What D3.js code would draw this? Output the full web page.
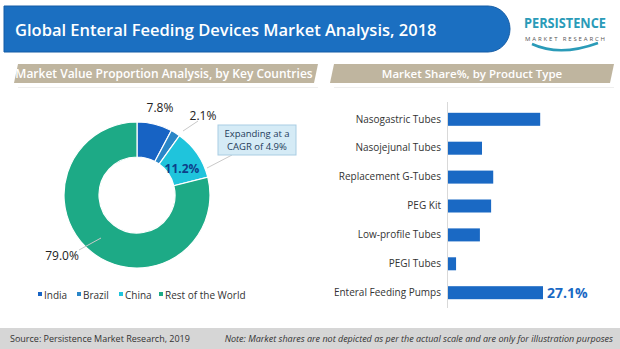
<!DOCTYPE html>
<html><head><meta charset="utf-8">
<script src="https://cdn.jsdelivr.net/npm/d3@7"></script>
<style>body{margin:0;background:#fff}svg{display:block}text{font-family:"Open Sans","Noto Sans",sans-serif}</style>
</head><body><svg id="c" width="620" height="349"></svg>
<script>
const countries = ["India","Brazil","China","Rest of the World"];
const shares = [7.8, 2.1, 11.2, 79.0];
const shareLabels = ["7.8%","2.1%","11.2%","79.0%"];
const countryColors = ["#1763c4","#2a86c8","#1fc4dc","#1daa86"];
const products = ["Nasogastric Tubes","Nasojejunal Tubes","Replacement G-Tubes","PEG Kit","Low-profile Tubes","PEGI Tubes","Enteral Feeding Pumps"];
const productShares = [26.3, 9.7, 12.9, 12.3, 9.1, 2.3, 27.1];

const svg = d3.select("#c");
// Title banner
svg.append("path").attr("d","M4,6 H488 A22,23 0 0 1 510,29 A22,23 0 0 1 488,52 H4 Z").attr("fill","#1b6fc1").attr("stroke","#155da6").attr("stroke-width",1);
svg.append("text").attr("x",15).attr("y",35.5).attr("fill","#fff").attr("font-size",16.5).attr("font-weight",600).text("Global Enteral Feeding Devices Market Analysis, 2018");
// Logo
svg.append("text").attr("x",565).attr("y",28).attr("text-anchor","middle").attr("fill","#2a9bb8").attr("font-size",15).attr("font-weight",700).attr("font-family","Liberation Sans Narrow, Liberation Sans, sans-serif").attr("textLength",82).attr("lengthAdjust","spacingAndGlyphs").text("PERSISTENCE");
svg.append("text").attr("x",565).attr("y",41).attr("text-anchor","middle").attr("fill","#555").attr("font-size",6).attr("textLength",80).attr("lengthAdjust","spacing").text("MARKET RESEARCH");
svg.append("path").attr("d","M532,44 Q560,57 598,43").attr("fill","none").attr("stroke","#2a9bb8").attr("stroke-width",2.5);

// Section headers
function header(x0,x1,label,cx,fs){
  svg.append("path").attr("d",`M${x0+4},64 H${x1} L${x1-4},83 H${x0} Z`).attr("fill","#bfb59f");
  svg.append("text").attr("x",cx).attr("y",78).attr("text-anchor","middle").attr("fill","#fff").attr("font-size",fs).attr("font-weight",600).text(label);
  svg.append("line").attr("x1",x0+4).attr("x2",x1).attr("y1",87.5).attr("y2",87.5).attr("stroke","#eeeeee");
}
header(14,318,"Market Value Proportion Analysis, by Key Countries",164,12);
header(330,614,"Market Share%, by Product Type",472,11.5);

// Donut
const cx=137, cy=195, rO=73, rI=38;
const pie = d3.pie().sort(null).value(d=>d)(shares);
const arc = d3.arc().innerRadius(rI).outerRadius(rO);
const g = svg.append("g").attr("transform",`translate(${cx},${cy})`);
g.selectAll("path").data(pie).join("path").attr("d",arc).attr("fill",(d,i)=>countryColors[i]).attr("stroke","#fff").attr("stroke-width",1.2);
// leader lines
const lines = [[[198,121],[183,131]],[[207,168],[232,155]],[[79,250],[101,238]]];
lines.forEach(l=>svg.append("line").attr("x1",l[0][0]).attr("y1",l[0][1]).attr("x2",l[1][0]).attr("y2",l[1][1]).attr("stroke","#c9c9c9").attr("stroke-width",1));
const lblPos=[[160,112,"#222",false],[203,120,"#222",false],[182,173,"#0d3f8a",true],[62,260,"#222",false]];
shareLabels.forEach((t,i)=>svg.append("text").attr("x",lblPos[i][0]).attr("y",lblPos[i][1]).attr("text-anchor","middle").attr("fill",lblPos[i][2]).attr("font-size",12).attr("font-weight",lblPos[i][3]?700:400).text(t));
// callout
svg.append("rect").attr("x",218).attr("y",125).attr("width",78).attr("height",30).attr("fill","#d5ebf6").attr("stroke","#a9cde3").attr("stroke-width",1);
svg.append("text").attr("x",257).attr("y",137).attr("text-anchor","middle").attr("font-size",9.5).attr("fill","#1f3b5a").text("Expanding at a");
svg.append("text").attr("x",257).attr("y",150).attr("text-anchor","middle").attr("font-size",9.5).attr("fill","#1f3b5a").text("CAGR of 4.9%");
// legend
const legX=[38,77,119,159];
countries.forEach((c,i)=>{
  svg.append("rect").attr("x",legX[i]).attr("y",292).attr("width",4).attr("height",4).attr("fill",countryColors[i]);
  svg.append("text").attr("x",legX[i]+6).attr("y",299).attr("font-size",10).attr("fill","#333").text(c);
});

// Bar chart
const x = d3.scaleLinear().domain([0,27.1]).range([448,543]);
const y = d3.scaleBand().domain(products).range([105,307]).paddingInner(0.55).paddingOuter(0.27);
svg.append("g").selectAll("rect").data(products).join("rect")
  .attr("x",x(0)).attr("y",d=>y(d)).attr("height",y.bandwidth())
  .attr("width",(d,i)=>x(productShares[i])-x(0)).attr("fill","#1a69c4");
svg.append("line").attr("x1",447.5).attr("x2",447.5).attr("y1",102).attr("y2",308).attr("stroke","#d9d9d9");
const yAxis = d3.axisLeft(y).tickSize(0).tickPadding(6);
const ag = svg.append("g").attr("transform","translate(447,0)").call(yAxis);
ag.select(".domain").remove();
ag.selectAll("text").attr("font-size",10).attr("fill","#333").attr("font-family","'Open Sans',sans-serif");
const last = products.length-1;
svg.append("text").attr("x",x(productShares[last])+4).attr("y",y(products[last])+y.bandwidth()/2+5).attr("font-size",14).attr("font-weight",700).attr("fill","#1a69c4").text(productShares[last].toFixed(1)+"%");

// Footer
svg.append("rect").attr("x",0).attr("y",328).attr("width",620).attr("height",21).attr("fill","#d6d6d6");
svg.append("text").attr("x",10).attr("y",342).attr("font-size",9).attr("fill","#333").attr("font-family","'Liberation Sans Narrow','Open Sans',sans-serif").text("Source: Persistence Market Research, 2019");
svg.append("text").attr("x",613).attr("y",342).attr("text-anchor","end").attr("font-size",9).attr("font-style","italic").attr("fill","#333").attr("font-family","'Liberation Sans Narrow','Open Sans',sans-serif").text("Note: Market shares are not depicted as per the actual scale and are only for illustration purposes");
</script></body></html>
